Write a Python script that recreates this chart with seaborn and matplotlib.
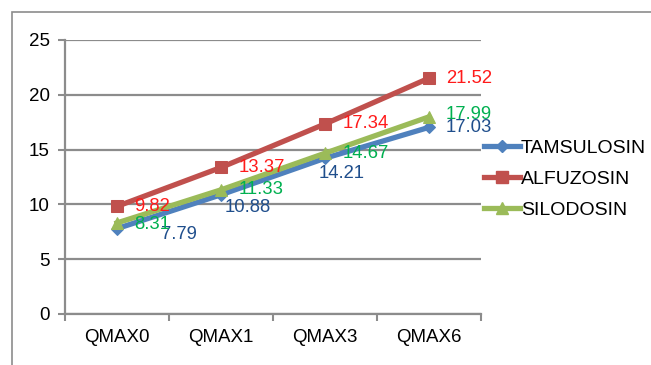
import matplotlib
matplotlib.use("Agg")
import matplotlib.pyplot as plt
import seaborn as sns
import pandas as pd
from matplotlib.patches import Rectangle
from matplotlib.lines import Line2D

categories = ["QMAX0", "QMAX1", "QMAX3", "QMAX6"]
tamsulosin = [7.79, 10.88, 14.21, 17.03]
alfuzosin = [9.82, 13.37, 17.34, 21.52]
silodosin = [8.31, 11.33, 14.67, 17.99]
series_names = ["TAMSULOSIN", "ALFUZOSIN", "SILODOSIN"]
y_ticks = [0, 5, 10, 15, 20, 25]

line_colors = {"TAMSULOSIN": "#4F81BD", "ALFUZOSIN": "#C0504D", "SILODOSIN": "#9BBB59"}
text_colors = {"TAMSULOSIN": "#1F4E8C", "ALFUZOSIN": "#FF1A1A", "SILODOSIN": "#00B050"}
markers = {"TAMSULOSIN": "D", "ALFUZOSIN": "s", "SILODOSIN": "^"}
msizes = {"TAMSULOSIN": 6.5, "ALFUZOSIN": 9, "SILODOSIN": 9}

# label offsets in pixels (dx to left edge of text, dy downward)
label_offsets = {
    "TAMSULOSIN": [(44, 6), (4, 13), (-6, 15), (17, 0)],
    "ALFUZOSIN": [(17, 0), (18, 0), (18, 0), (17, 0)],
    "SILODOSIN": [(17, 2), (18, 0), (18, 0), (17, -2)],
}

values = {"TAMSULOSIN": tamsulosin, "ALFUZOSIN": alfuzosin, "SILODOSIN": silodosin}
rows = []
for name in series_names:
    for i, (cat, v) in enumerate(zip(categories, values[name])):
        rows.append({"pos": i, "cat": cat, "value": v, "series": name})
df = pd.DataFrame(rows)

plt.rcParams["font.family"] = ["Liberation Sans", "DejaVu Sans"]
fig = plt.figure(figsize=(6.51, 3.65), dpi=100)
ax = fig.add_axes([65 / 651, 1 - 314 / 365, (481 - 65) / 651, (314 - 40) / 365])

# outer frame
fig.patches.append(Rectangle((12 / 651, -0.1), 1.2, 1 - 12 / 365 + 0.1,
                             transform=fig.transFigure, fill=False,
                             edgecolor="#8C8C8C", linewidth=1.2, zorder=0))

for name in series_names:
    sub = df[df["series"] == name]
    sns.lineplot(data=sub, x="pos", y="value", ax=ax, color=line_colors[name],
                 linewidth=3.8, marker=markers[name], markersize=msizes[name],
                 markeredgecolor=line_colors[name], markerfacecolor=line_colors[name],
                 zorder=3, legend=False)

ax.set_xlim(-0.5, 3.5)
ax.set_ylim(0, 25)
ax.set_yticks(y_ticks)
ax.set_xticks(range(len(categories)))
ax.set_xticklabels(categories)
ax.set_xticks([-0.5, 0.5, 1.5, 2.5, 3.5], minor=True)
ax.tick_params(axis="x", which="major", length=0, pad=11, labelsize=13.5, colors="#000000")
ax.tick_params(axis="x", which="minor", length=5, width=1.5, color="#8C8C8C")
ax.tick_params(axis="y", length=5, width=1.5, color="#8C8C8C", labelsize=13.5, pad=6)
ax.set_xlabel("")
ax.set_ylabel("")
ax.grid(axis="y", color="#8C8C8C", linewidth=1.6, zorder=0)
ax.set_axisbelow(True)
for side in ["top", "right"]:
    ax.spines[side].set_visible(False)
ax.spines["left"].set_color("#8C8C8C")
ax.spines["left"].set_linewidth(1.6)
ax.spines["bottom"].set_color("#8C8C8C")
ax.spines["bottom"].set_linewidth(1.6)

# data labels
for name in series_names:
    for i, v in enumerate(values[name]):
        dx, dy = label_offsets[name][i]
        ax.annotate(f"{v:.2f}", xy=(i, v), xytext=(dx * 0.72, -dy * 0.72),
                    textcoords="offset points", ha="left", va="center",
                    fontsize=13.3, color=text_colors[name], zorder=4)

handles = [Line2D([0], [0], color=line_colors[n], linewidth=3.8, marker=markers[n],
                  markersize=msizes[n], markerfacecolor=line_colors[n],
                  markeredgecolor=line_colors[n]) for n in series_names]
fig.legend(handles, series_names, loc="upper left", bbox_to_anchor=(484 / 651, 1 - 139 / 365),
           frameon=False, fontsize=14, handlelength=1.85, handletextpad=0.05,
           labelspacing=0.7, borderpad=0, borderaxespad=0)

fig.savefig("out.png", dpi=100)
